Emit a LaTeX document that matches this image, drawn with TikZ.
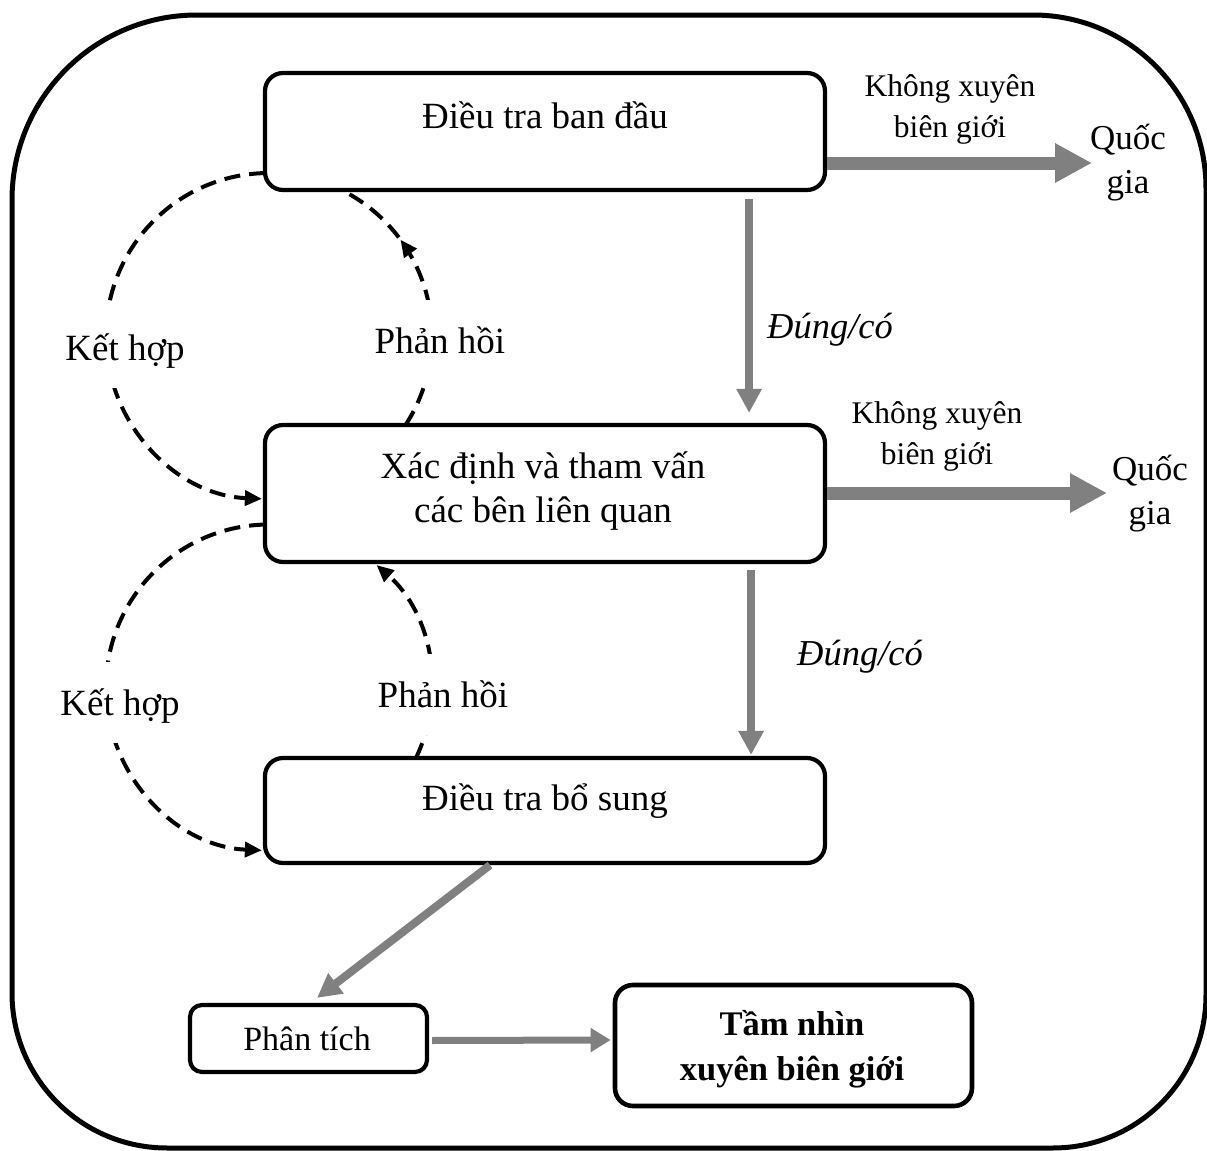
\documentclass[tikz,border=0pt]{standalone}
\usepackage{fontspec}
\setmainfont{Liberation Serif}
\usetikzlibrary{arrows.meta,decorations.markings}
\definecolor{flowgray}{RGB}{128,128,128}

\begin{document}
\begin{tikzpicture}[x=0.5pt,y=0.5pt,
  frame/.style={draw=black, line width=2.5pt},
  box/.style={draw=black, line width=2.1pt, rounded corners=9pt, fill=white, inner sep=0pt},
  txt/.style={inner sep=0pt, anchor=base, align=center, font=\fontsize{18.5}{22}\selectfont},
  side/.style={inner sep=0pt, anchor=base, align=center, font=\fontsize{15.75}{20.5}\selectfont},
  land/.style={inner sep=0pt, anchor=base, align=center, font=\fontsize{17.5}{22}\selectfont},
  yes/.style={inner sep=0pt, anchor=base, font=\itshape\fontsize{18.25}{22}\selectfont},
  loop/.style={fill=white, anchor=base, inner xsep=1pt, inner ysep=12.5pt,
    text height=14pt, text depth=1.5pt, font=\fontsize{18.5}{22}\selectfont},
  dashline/.style={draw=black, line width=2pt, dash pattern=on 8pt off 4.5pt},
  dtip/.style={-{Triangle[length=8.5pt,width=7.5pt]}},
  midtip/.style={postaction={decorate, decoration={markings,
    mark=at position #1 with {\arrow{Triangle[length=8.5pt,width=7.5pt]}}}}},
  gthick/.style={draw=flowgray, line width=6.5pt, -{Triangle[length=18.5pt,width=18.5pt]}},
  gmid/.style={draw=flowgray, line width=4pt, -{Triangle[length=12pt,width=12pt]}},
  gthin/.style={draw=flowgray, line width=3.5pt, -{Triangle[length=10pt,width=11.5pt]}}
]
\useasboundingbox (0,0) rectangle (1207,-1151);
\clip (0,0) rectangle (1207,-1151);

% outer frame with unequal corner radii
\draw[frame] (12,-200) arc[start angle=180,end angle=90,radius=185]
  -- (1033,-15) arc[start angle=90,end angle=0,radius=173]
  -- (1206,-995) arc[start angle=0,end angle=-90,radius=153]
  -- (167,-1148) arc[start angle=270,end angle=180,radius=155] -- cycle;

% process boxes
\node[box, minimum width=280pt, minimum height=58.5pt] (b1) at (545,-131.5) {};
\node[box, minimum width=280pt, minimum height=68.5pt] (b2) at (545,-493.5) {};
\node[box, minimum width=280pt, minimum height=52.5pt] (b3) at (545,-810.5) {};
\node[box, rounded corners=6pt, minimum width=118.5pt, minimum height=33.5pt] (pt) at (308.5,-1038.5) {};
\node[box, line width=2.3pt, minimum width=178.5pt, minimum height=60.5pt] (tn) at (793.5,-1045.5) {};

% box texts (multi-line nodes sit on the baseline of their last line)
\node[txt] (t1) at (545,-128) {Điều tra ban đầu};
\node[txt] (t2) at (543,-522) {Xác định và tham vấn\\các bên liên quan};
\node[txt] (t3) at (545,-810) {Điều tra bổ sung};
\node[txt, font=\fontsize{17}{20}\selectfont] (t4) at (307,-1050) {Phân tích};
\node[txt, font=\bfseries\fontsize{17.25}{22.5}\selectfont] (t5) at (792,-1080) {Tầm nhìn\\xuyên biên giới};

% feedback circles
\coordinate (o1) at (269,-336);
\coordinate (o2) at (269,-687.5);

\draw[dashline, dtip] (o1) ++(91.4:163) arc[start angle=91.4,end angle=267.5,radius=163];
\draw[dashline, midtip=0.717] (o1) ++(-33.1:163) arc[start angle=-33.1,end angle=63.6,radius=163];
\draw[dashline, dtip] (o2) ++(91.4:163) arc[start angle=91.4,end angle=267.5,radius=163];
\draw[dashline, dtip] (o2) ++(-25.6:163) arc[start angle=-25.6,end angle=48.7,radius=163];

\node[loop] (k1) at (125,-360) {Kết hợp};
\node[loop] (p1) at (440,-353) {Phản hồi};
\node[loop] (k2) at (120,-715) {Kết hợp};
\node[loop] (p2) at (443,-707) {Phản hồi};

% national branches
\node[side] (n1) at (950,-137) {Không xuyên\\biên giới};
\node[land] (q1) at (1128,-193) {Quốc\\gia};
\node[side] (n2) at (937,-464) {Không xuyên\\biên giới};
\node[land] (q2) at (1150,-524) {Quốc\\gia};
\coordinate (a1) at (1092,-163);
\coordinate (a2) at (1107,-493);
\draw[gthick] (b1.east |- a1) -- (a1);
\draw[gthick] (b2.east |- a2) -- (a2);

% main flow
\node[yes] (y1) at (830,-338) {Đúng/có};
\node[yes] (y2) at (860,-665) {Đúng/có};
\draw[gmid] ([xshift=-39pt,yshift=-3.5pt]b1.south east) -- ([xshift=-39pt,yshift=5pt]b2.north east);
\draw[gmid] ([xshift=-38pt,yshift=-3pt]b2.south east) -- ([xshift=-38pt,yshift=0.5pt]b3.north east);
\draw[gmid] ([xshift=-27.5pt]b3.south) -- ([xshift=4.25pt,yshift=2.5pt]pt.north);
\draw[gthin] ([xshift=1.5pt,yshift=-1pt]pt.east) -- ([xshift=-1pt,yshift=2.75pt]tn.west);
\end{tikzpicture}
\end{document}
